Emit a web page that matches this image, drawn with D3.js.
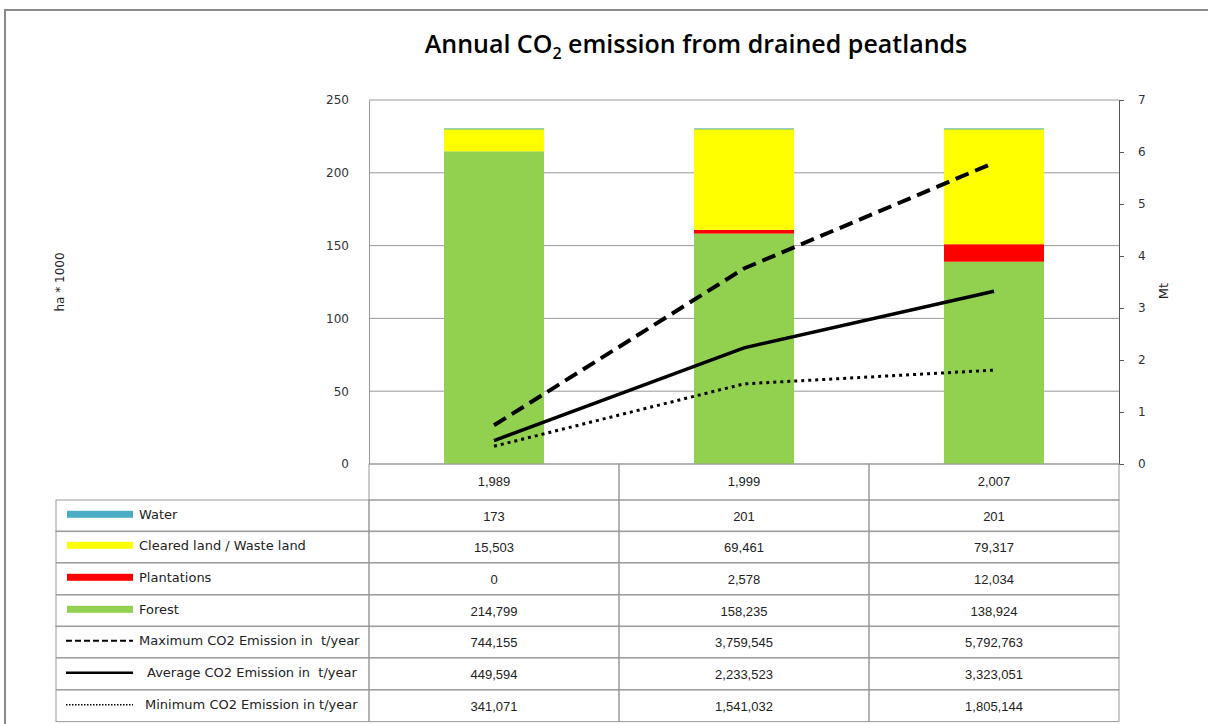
<!DOCTYPE html>
<html lang="en">
<head>
<meta charset="UTF-8">
<title>Annual CO2 emission from drained peatlands</title>
<script src="https://d3js.org/d3.v7.min.js"></script>
<style>
    body { margin: 0; background: #fff; }
    text { font-family: "Liberation Sans", sans-serif; fill: #222; }
    .tick text { font-size: 13px; fill: #333; }
    .grid line { stroke: #999; stroke-width: 1px; }
    .cell { fill: none; stroke: #999; stroke-width: 1px; }
    .legend-text { font-family: "DejaVu Sans", sans-serif; font-size: 13px; white-space: pre; }
</style>
</head>
<body>
<script>
    // data
    const years = ["1,989", "1,999", "2,007"];
    const water = [173, 201, 201];
    const cleared = [15503, 69461, 79317];
    const plantations = [0, 2578, 12034];
    const forest = [214799, 158235, 138924];
    const maxEmission = [744155, 3759545, 5792763];
    const avgEmission = [449594, 2233523, 3323051];
    const minEmission = [341071, 1541032, 1805144];

    const leftTicks = [0, 50, 100, 150, 200, 250];
    const rightTicks = [0, 1, 2, 3, 4, 5, 6, 7];

    const width = 1208, height = 724;
    const plot = { left: 369, right: 1119, top: 100, bottom: 464 };

    const svg = d3.select("body").append("svg")
        .attr("width", width)
        .attr("height", height);

    // outer frame
    svg.append("rect")
        .attr("x", 5).attr("y", 10)
        .attr("width", width + 10).attr("height", height + 10)
        .attr("fill", "none")
        .attr("stroke", "#8a8a8a")
        .attr("stroke-width", 2);

    // title with subscript
    const title = svg.append("text")
        .attr("x", 696).attr("y", 53)
        .attr("text-anchor", "middle")
        .style("font-family", "'Open Sans', sans-serif")
        .style("font-size", "25px")
        .style("font-weight", 600)
        .style("fill", "#000");
    title.append("tspan").text("Annual CO");
    title.append("tspan").attr("dy", 6).style("font-size", "16px").text("2");
    title.append("tspan").attr("dy", -6).text(" emission from drained peatlands");

    // scales
    const x = d3.scaleBand().domain(years).range([plot.left, plot.right]);
    const yLeft = d3.scaleLinear().domain([0, 250]).range([plot.bottom, plot.top]);
    const yRight = d3.scaleLinear().domain([0, 7]).range([plot.bottom, plot.top]);
    const barWidth = x.bandwidth() * 0.4;

    // gridlines
    svg.append("g").attr("class", "grid")
        .selectAll("line")
        .data(leftTicks)
        .enter().append("line")
        .attr("x1", plot.left).attr("x2", plot.right)
        .attr("y1", d => yLeft(d)).attr("y2", d => yLeft(d));

    // left axis
    const leftAxis = svg.append("g")
        .attr("transform", `translate(${plot.left},0)`)
        .call(d3.axisLeft(yLeft).tickValues(leftTicks).tickSize(0).tickPadding(20));
    leftAxis.select(".domain").attr("stroke", "#999");
    leftAxis.selectAll(".tick text").style("font-family", "'DejaVu Sans', sans-serif").style("font-size", "12px");

    // right axis
    const rightAxis = svg.append("g")
        .attr("transform", `translate(${plot.right},0)`)
        .call(d3.axisRight(yRight).tickValues(rightTicks).tickFormat(d3.format("d")).tickSize(5).tickPadding(14));
    rightAxis.select(".domain").attr("stroke", "#555");
    rightAxis.selectAll(".tick line").attr("stroke", "#555");
    rightAxis.selectAll(".tick text").style("font-family", "'DejaVu Sans', sans-serif").style("font-size", "12px");

    // axis titles
    svg.append("text")
        .attr("transform", "translate(64,282) rotate(-90)")
        .attr("text-anchor", "middle")
        .style("font-family", "'DejaVu Sans', sans-serif")
        .style("font-size", "12px")
        .text("ha * 1000");
    svg.append("text")
        .attr("transform", "translate(1168,291) rotate(-90)")
        .attr("text-anchor", "middle")
        .style("font-family", "'DejaVu Sans', sans-serif")
        .style("font-size", "13px")
        .text("Mt");

    // stacked bars
    const barSeries = [
        { name: "Forest", values: forest, color: "#92d050" },
        { name: "Plantations", values: plantations, color: "#ff0000" },
        { name: "Cleared land / Waste land", values: cleared, color: "#ffff00" },
        { name: "Water", values: water, color: "#4bacc6" }
    ];
    const rows = years.map((yr, i) => {
        const r = { year: yr };
        barSeries.forEach(s => r[s.name] = s.values[i] / 1000);
        return r;
    });
    const stack = d3.stack().keys(barSeries.map(s => s.name))(rows);

    svg.append("g").selectAll("g")
        .data(stack)
        .enter().append("g")
        .attr("fill", (d, i) => barSeries[i].color)
        .selectAll("rect")
        .data(d => d)
        .enter().append("rect")
        .attr("x", d => x(d.data.year) + (x.bandwidth() - barWidth) / 2)
        .attr("width", barWidth)
        .attr("y", d => yLeft(d[1]))
        .attr("height", d => Math.max(yLeft(d[0]) - yLeft(d[1]), d[1] > d[0] ? 1 : 0));

    // emission lines
    const lineSeries = [
        { name: "Maximum CO2 Emission in  t/year", values: maxEmission, dash: "14,7", width: 4 },
        { name: "Average CO2 Emission in  t/year", values: avgEmission, dash: null, width: 3.5 },
        { name: "Minimum CO2 Emission in t/year", values: minEmission, dash: "3,4", width: 3 }
    ];
    const line = d3.line()
        .x((d, i) => x(years[i]) + x.bandwidth() / 2)
        .y(d => yRight(d / 1e6));

    lineSeries.forEach(s => {
        svg.append("path")
            .datum(s.values)
            .attr("fill", "none")
            .attr("stroke", "#000")
            .attr("stroke-width", s.width)
            .attr("stroke-dasharray", s.dash)
            .attr("d", line);
    });

    // data table
    const fmt = d3.format(",");
    const rowTop = [500, 531, 563, 595, 626, 658, 690];
    const rowH = 31.6;
    const tableLeft = 56;
    const table = svg.append("g");

    // category row
    years.forEach(yr => {
        table.append("rect").attr("class", "cell")
            .attr("x", x(yr)).attr("y", plot.bottom)
            .attr("width", x.bandwidth()).attr("height", 500 - plot.bottom);
        table.append("text")
            .attr("x", x(yr) + x.bandwidth() / 2).attr("y", 486)
            .attr("text-anchor", "middle")
            .style("font-size", "13px")
            .text(yr);
    });

    const tableRows = [
        { label: "Water", values: water, swatch: "#4bacc6" },
        { label: "Cleared land / Waste land", values: cleared, swatch: "#ffff00" },
        { label: "Plantations", values: plantations, swatch: "#ff0000" },
        { label: "Forest", values: forest, swatch: "#92d050" },
        { label: lineSeries[0].name, values: maxEmission, dash: "6,3", lw: 2 },
        { label: lineSeries[1].name, values: avgEmission, dash: null, lw: 2.5, indent: 8 },
        { label: lineSeries[2].name, values: minEmission, dash: "1.5,1.5", lw: 1.5, indent: 6 }
    ];

    tableRows.forEach((r, k) => {
        const y0 = rowTop[k];
        const yMid = y0 + rowH / 2;
        table.append("rect").attr("class", "cell")
            .attr("x", tableLeft).attr("y", y0)
            .attr("width", plot.left - tableLeft).attr("height", rowH);
        if (r.swatch) {
            table.append("rect")
                .attr("x", 67).attr("y", yMid - 5)
                .attr("width", 66).attr("height", 7)
                .attr("fill", r.swatch);
        } else {
            table.append("line")
                .attr("x1", 66).attr("x2", 133)
                .attr("y1", yMid - 1).attr("y2", yMid - 1)
                .attr("stroke", "#000")
                .attr("stroke-width", r.lw)
                .attr("stroke-dasharray", r.dash);
        }
        table.append("text")
            .attr("class", "legend-text")
            .attr("x", 139 + (r.indent || 0)).attr("y", yMid + 3)
            .text(r.label);

        years.forEach((yr, i) => {
            table.append("rect").attr("class", "cell")
                .attr("x", x(yr)).attr("y", y0)
                .attr("width", x.bandwidth()).attr("height", rowH);
            table.append("text")
                .attr("x", x(yr) + x.bandwidth() / 2).attr("y", yMid + 5)
                .attr("text-anchor", "middle")
                .style("font-size", "13px")
                .text(fmt(r.values[i]));
        });
    });
</script>
</body>
</html>
